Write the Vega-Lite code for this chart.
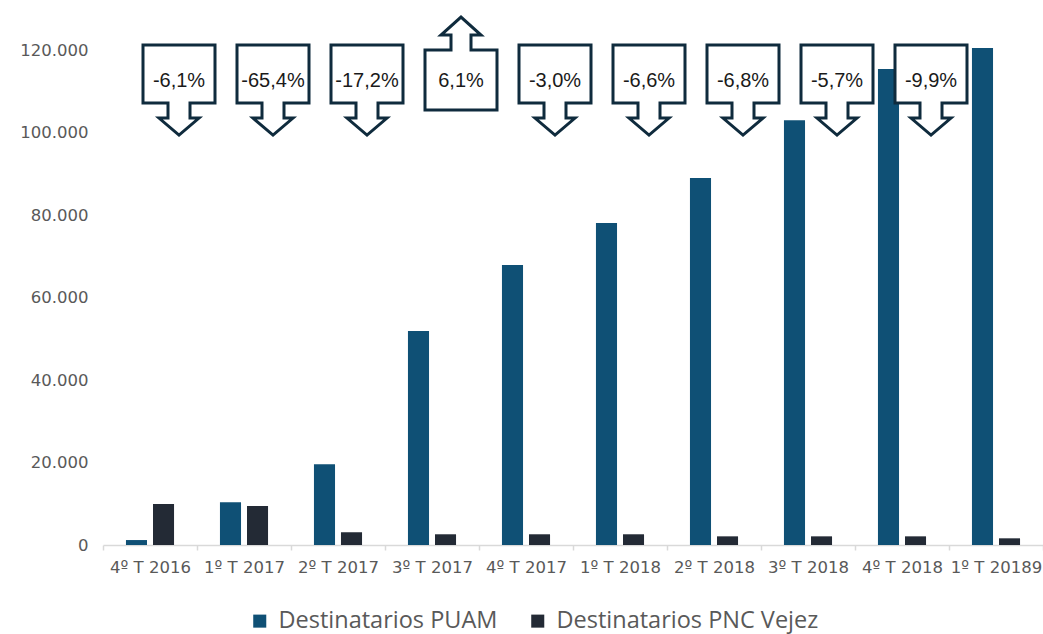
{
  "$schema": "https://vega.github.io/schema/vega-lite/v6.json",
  "autosize": {"type": "none"},
  "padding": {"left": 103, "top": 50, "right": 0, "bottom": 89},
  "width": 940,
  "height": 495,
  "background": "white",
  "config": {"view": {"stroke": null}},
  "datasets": {
    "bars": [
      {"cat": "4º T 2016", "serie": "Destinatarios PUAM", "value": 1200},
      {"cat": "1º T 2017", "serie": "Destinatarios PUAM", "value": 10350},
      {"cat": "2º T 2017", "serie": "Destinatarios PUAM", "value": 19560},
      {"cat": "3º T 2017", "serie": "Destinatarios PUAM", "value": 51900},
      {"cat": "4º T 2017", "serie": "Destinatarios PUAM", "value": 67900},
      {"cat": "1º T 2018", "serie": "Destinatarios PUAM", "value": 78060},
      {"cat": "2º T 2018", "serie": "Destinatarios PUAM", "value": 88970},
      {"cat": "3º T 2018", "serie": "Destinatarios PUAM", "value": 103000},
      {"cat": "4º T 2018", "serie": "Destinatarios PUAM", "value": 115400},
      {"cat": "1º T 20189", "serie": "Destinatarios PUAM", "value": 120500},
      {"cat": "4º T 2016", "serie": "Destinatarios PNC Vejez", "value": 9940},
      {"cat": "1º T 2017", "serie": "Destinatarios PNC Vejez", "value": 9450},
      {"cat": "2º T 2017", "serie": "Destinatarios PNC Vejez", "value": 3080},
      {"cat": "3º T 2017", "serie": "Destinatarios PNC Vejez", "value": 2600},
      {"cat": "4º T 2017", "serie": "Destinatarios PNC Vejez", "value": 2600},
      {"cat": "1º T 2018", "serie": "Destinatarios PNC Vejez", "value": 2600},
      {"cat": "2º T 2018", "serie": "Destinatarios PNC Vejez", "value": 2100},
      {"cat": "3º T 2018", "serie": "Destinatarios PNC Vejez", "value": 2100},
      {"cat": "4º T 2018", "serie": "Destinatarios PNC Vejez", "value": 2100},
      {"cat": "1º T 20189", "serie": "Destinatarios PNC Vejez", "value": 1620}
    ],
    "callouts": [
      {"cat": "4º T 2016", "label": "-6,1%", "dir": "down"},
      {"cat": "1º T 2017", "label": "-65,4%", "dir": "down"},
      {"cat": "2º T 2017", "label": "-17,2%", "dir": "down"},
      {"cat": "3º T 2017", "label": "6,1%", "dir": "up"},
      {"cat": "4º T 2017", "label": "-3,0%", "dir": "down"},
      {"cat": "1º T 2018", "label": "-6,6%", "dir": "down"},
      {"cat": "2º T 2018", "label": "-6,8%", "dir": "down"},
      {"cat": "3º T 2018", "label": "-5,7%", "dir": "down"},
      {"cat": "4º T 2018", "label": "-9,9%", "dir": "down"}
    ]
  },
  "encoding": {
    "x": {
      "field": "cat",
      "type": "nominal",
      "sort": null,
      "scale": {
        "domain": ["4º T 2016", "1º T 2017", "2º T 2017", "3º T 2017", "4º T 2017", "1º T 2018", "2º T 2018", "3º T 2018", "4º T 2018", "1º T 20189"],
        "paddingInner": 0,
        "paddingOuter": 0
      },
      "axis": {
        "title": null,
        "labelAngle": 0,
        "labelFont": "DejaVu Sans",
        "labelFontSize": 16.5,
        "labelColor": "#595959",
        "labelPadding": 9,
        "labelLimit": 0,
        "tickBand": "extent",
        "tickSize": 5,
        "tickColor": "#d9d9d9",
        "domainColor": "#d9d9d9",
        "domainWidth": 1.5,
        "tickWidth": 1.5
      }
    }
  },
  "layer": [
    {
      "data": {"name": "bars"},
      "mark": {"type": "bar"},
      "encoding": {
        "xOffset": {
          "field": "serie",
          "type": "nominal",
          "sort": ["Destinatarios PUAM", "Destinatarios PNC Vejez"],
          "scale": {"paddingInner": 0.22, "paddingOuter": 0.85}
        },
        "y": {
          "field": "value",
          "type": "quantitative",
          "scale": {"domain": [0, 120000], "nice": false},
          "axis": {
            "title": null,
            "values": [0, 20000, 40000, 60000, 80000, 100000, 120000],
            "labelExpr": "replace(format(datum.value, ','), ',', '.')",
            "grid": false,
            "domain": false,
            "ticks": false,
            "tickSize": 0,
            "labelPadding": 15,
            "labelFont": "DejaVu Sans",
            "labelFontSize": 16.5,
            "labelColor": "#595959"
          }
        },
        "color": {
          "field": "serie",
          "type": "nominal",
          "sort": ["Destinatarios PUAM", "Destinatarios PNC Vejez"],
          "scale": {"domain": ["Destinatarios PUAM", "Destinatarios PNC Vejez"], "range": ["#0f5075", "#232a35"]},
          "legend": {
            "title": null,
            "orient": "none",
            "legendX": 145,
            "legendY": 559,
            "direction": "horizontal",
            "symbolType": "square",
            "symbolSize": 170,
            "symbolStrokeWidth": 0,
            "labelFont": "Open Sans",
            "labelFontSize": 23.5,
            "labelColor": "#595959",
            "labelLimit": 0,
            "labelOffset": 7,
            "columnPadding": 28
          }
        }
      }
    },
    {
      "data": {"name": "callouts"},
      "mark": {
        "type": "point",
        "filled": true,
        "fill": "white",
        "stroke": "#0f2b3d",
        "strokeWidth": 3,
        "opacity": 1,
        "size": 6400,
        "xOffset": 29,
        "clip": false
      },
      "encoding": {
        "y": {"datum": 112700, "type": "quantitative"},
        "shape": {
          "field": "dir",
          "type": "nominal",
          "scale": {
            "domain": ["down", "up"],
            "range": [
              "M-0.9,-0.875L0.9,-0.875L0.9,0.575L0.275,0.575L0.275,0.95L0.5,0.95L0,1.375L-0.5,0.95L-0.275,0.95L-0.275,0.575L-0.9,0.575Z",
              "M-0.9,0.75L0.9,0.75L0.9,-0.75L0.25,-0.75L0.25,-1.125L0.5,-1.125L0,-1.575L-0.5,-1.125L-0.25,-1.125L-0.25,-0.75L-0.9,-0.75Z"
            ]
          },
          "legend": null
        }
      }
    },
    {
      "data": {"name": "callouts"},
      "mark": {
        "type": "text",
        "font": "Liberation Sans",
        "fontSize": 20,
        "color": "#1a1a1a",
        "xOffset": 29,
        "dy": 1,
        "align": "center",
        "baseline": "middle"
      },
      "encoding": {
        "y": {"datum": 112700, "type": "quantitative"},
        "text": {"field": "label", "type": "nominal"}
      }
    }
  ]
}
